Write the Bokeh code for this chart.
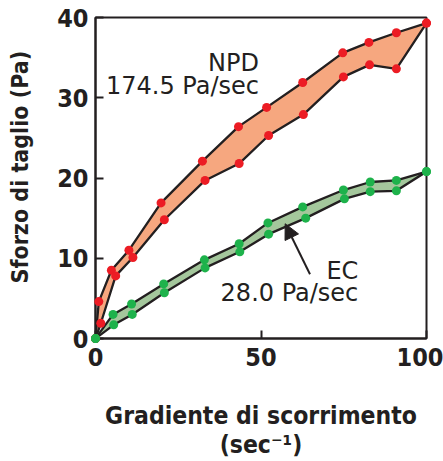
from bokeh.plotting import figure
from bokeh.models import Range1d, FixedTicker, Arrow, NormalHead, Label
from bokeh.embed import file_html
from bokeh.resources import INLINE

# Shear rate (sec^-1) and shear stress (Pa): rising and falling branches
npd_up_x = [0, 1.0, 4.8, 10.1, 19.8, 32.3, 43.2, 51.7, 62.6, 74.7, 82.6, 90.9, 100]
npd_up_y = [0, 4.6, 8.5, 11.0, 16.9, 22.1, 26.4, 28.8, 31.9, 35.6, 36.9, 38.1, 39.3]
npd_dn_x = [0, 1.6, 6.1, 11.3, 20.8, 33.1, 43.4, 52.3, 62.8, 74.9, 82.8, 90.9, 100]
npd_dn_y = [0, 1.9, 7.8, 10.1, 14.8, 19.7, 21.8, 25.3, 27.9, 32.6, 34.1, 33.6, 39.3]

ec_up_x = [0, 5.3, 10.9, 20.6, 32.9, 43.4, 52.1, 62.6, 74.9, 83.0, 90.9, 100]
ec_up_y = [0, 3.0, 4.3, 6.8, 9.8, 11.8, 14.4, 16.4, 18.5, 19.5, 19.7, 20.8]
ec_dn_x = [0, 5.5, 11.1, 20.8, 33.1, 43.6, 52.3, 63.5, 75.2, 83.0, 90.9, 100]
ec_dn_y = [0, 1.7, 3.0, 5.7, 8.8, 10.8, 13.0, 15.0, 17.4, 18.3, 18.4, 20.8]

x_ticks = [0, 50, 100]
y_ticks = [0, 10, 20, 30, 40]

FONT = "DejaVu Sans Condensed"
INK = "#231f20"

p = figure(width=443, height=461, output_backend="svg", toolbar_location=None,
           x_range=Range1d(0, 100), y_range=Range1d(0, 40),
           min_border_left=95, min_border_right=17, min_border_top=17, min_border_bottom=123)
p.grid.visible = False
p.outline_line_color = INK
p.outline_line_width = 2
p.background_fill_color = "white"
p.border_fill_color = "white"

for ax in (p.xaxis[0], p.yaxis[0]):
    ax.axis_line_color = INK
    ax.axis_line_width = 2
    ax.major_tick_in = 8
    ax.major_tick_out = 0
    ax.major_tick_line_color = INK
    ax.major_tick_line_width = 2
    ax.minor_tick_line_color = None
    ax.major_label_text_font = FONT
    ax.major_label_text_font_style = "bold"
    ax.major_label_text_font_size = "25px"
    ax.major_label_text_color = INK
    ax.axis_label_text_font = FONT
    ax.axis_label_text_font_style = "bold"
    ax.axis_label_text_color = INK

p.xaxis.ticker = FixedTicker(ticks=x_ticks)
p.yaxis.ticker = FixedTicker(ticks=y_ticks)
p.xaxis.major_label_standoff = 9
p.yaxis.major_label_standoff = 7
p.xaxis.axis_label = "Gradiente di scorrimento\n(sec\u207b\u00b9)"
p.xaxis.axis_label_text_font_size = "24.5px"
p.xaxis.axis_label_text_line_height = 1.0
p.xaxis.axis_label_standoff = 32
# leading no-break spaces lift the rotated title a little above the frame's middle
p.yaxis.axis_label = "\u00a0\u00a0\u00a0Sforzo di taglio (Pa)"
p.yaxis.axis_label_text_font_size = "23px"
p.yaxis.axis_label_standoff = 21

# Hysteresis loops: rising branch out, falling branch back
p.patch(npd_up_x + npd_dn_x[::-1], npd_up_y + npd_dn_y[::-1],
        fill_color="#f6a77f", line_color=None)
p.patch(ec_up_x + ec_dn_x[::-1], ec_up_y + ec_dn_y[::-1],
        fill_color="#a4c79c", line_color=None)

for xs, ys in ((npd_up_x, npd_up_y), (npd_dn_x, npd_dn_y),
               (ec_up_x, ec_up_y), (ec_dn_x, ec_dn_y)):
    p.line(xs, ys, line_color=INK, line_width=2.3)

# Markers sit on top of the frame so points on its edges stay whole
for xs, ys in ((npd_up_x, npd_up_y), (npd_dn_x, npd_dn_y)):
    p.scatter(xs, ys, size=9, fill_color="#ec1c24", line_color=None, level="overlay")
for xs, ys in ((ec_up_x, ec_up_y), (ec_dn_x, ec_dn_y)):
    p.scatter(xs, ys, size=9, fill_color="#1eb24b", line_color=None, level="overlay")

p.add_layout(Arrow(end=NormalHead(size=15, fill_color=INK, line_color=INK),
                   x_start=64.8, y_start=8.0, x_end=57.3, y_end=14.3,
                   line_color=INK, line_width=2))

for txt, x, y in (("NPD", 49.4, 34.35), ("174.5 Pa/sec", 49.4, 31.48),
                  ("EC", 79.4, 8.42), ("28.0 Pa/sec", 79.4, 5.62)):
    p.add_layout(Label(x=x, y=y, text=txt, text_align="right", text_baseline="alphabetic",
                       text_font="DejaVu Sans", text_font_size="24px", text_color=INK))

open("out.html", "w").write(file_html(p, INLINE))
